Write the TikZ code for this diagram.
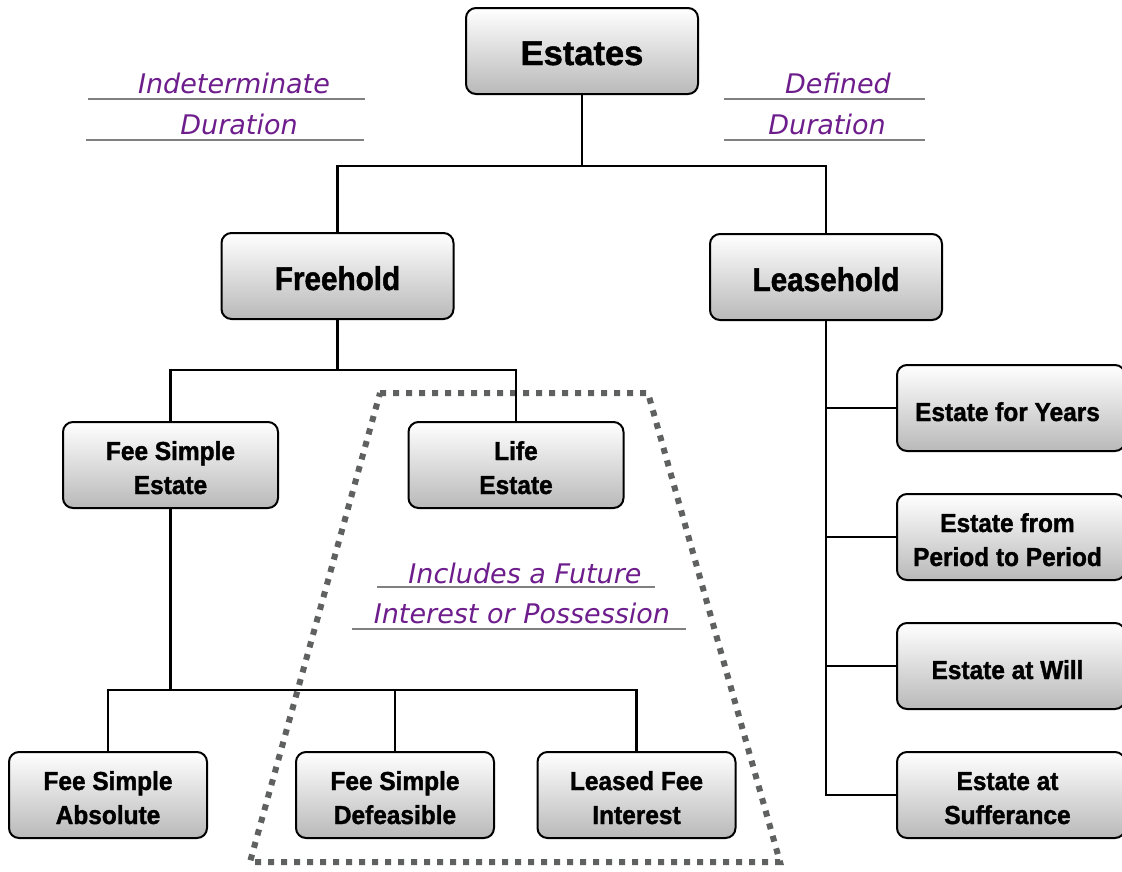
\documentclass[tikz,border=0pt]{standalone}
\usepackage{fontspec}
\setmainfont{Liberation Sans}
\newfontfamily\handfont{DejaVu Sans}
\newfontfamily\heavyfont[FakeBold=1.4,FakeStretch=0.94]{Liberation Sans Bold}
\newfontfamily\heavynarrow[FakeBold=1.4,FakeStretch=0.9]{Liberation Sans Bold}
\newfontfamily\heavywide[FakeBold=1.4]{Liberation Sans Bold}
\definecolor{notepurple}{RGB}{110,30,140}
\definecolor{rulegray}{RGB}{128,128,128}
\definecolor{dashgray}{RGB}{95,96,96}
\begin{document}
\begin{tikzpicture}[x=1pt,y=-1pt,
  box/.style={draw=black, line width=2pt, rounded corners=10pt,
    top color=white, bottom color=gray!55, align=center, inner sep=0pt,
    minimum width=215pt, minimum height=86pt,
    text height=63pt, text depth=5pt,
    font=\heavyfont\fontsize{26}{34}\selectfont},
  oneline/.style={text height=31pt, text depth=5pt},
  bigbox/.style={box, minimum width=232pt, text height=33pt, text depth=5pt,
    font=\heavynarrow\fontsize{33}{36}\selectfont},
  lowbox/.style={box, minimum width=198pt},
  sidebox/.style={box, minimum width=228pt},
  conn/.style={line width=2.2pt, black},
  note/.style={font=\handfont\itshape\fontsize{27}{30}\selectfont, text=notepurple, inner sep=0pt},
  noterule/.style={line width=1.8pt, rulegray},
  bracket/.style={line width=6pt, dashgray, dash pattern=on 6pt off 7pt}]
\useasboundingbox (0,0) rectangle (1122,871);
\fill[white] (0,0) rectangle (1122,871);

% grouping of estates that include a future interest
\draw[bracket] (380,393) -- (648,393) -- (780,862) -- (250,862) -- cycle;

% boxes
\node[bigbox, font=\heavywide\fontsize{34.5}{40}\selectfont] (estates) at (582,51) {Estates};
\node[bigbox] (freehold) at (337.5,276) {Freehold};
\node[bigbox] (leasehold) at (826,277) {Leasehold};
\node[box] (feesimple) at (170.5,465) {Fee Simple\\Estate};
\node[box] (life) at (516,465) {Life\\Estate};
\node[lowbox] (absolute) at (108,795) {Fee Simple\\Absolute};
\node[lowbox] (defeasible) at (395,795) {Fee Simple\\Defeasible};
\node[lowbox] (leasedfee) at (636.5,795) {Leased Fee\\Interest};
\node[sidebox, oneline] (years) at (1011,408) {\hspace*{-7pt}Estate for Years};
\node[sidebox] (period) at (1011,537) {\hspace*{-7pt}Estate from\\\hspace*{-7pt}Period to Period};
\node[sidebox, oneline] (will) at (1011,666) {\hspace*{-7pt}Estate at Will};
\node[sidebox] (sufferance) at (1011,795) {\hspace*{-7pt}Estate at\\\hspace*{-7pt}Sufferance};

% junctions
\coordinate (jtop) at (582,166);
\coordinate (jfree) at (337.5,370);
\coordinate (jfee) at (170.5,690);

% connectors
\draw[conn] (estates.south) -- (jtop);
\draw[conn] (jtop) -| (freehold.north);
\draw[conn] (jtop) -| (leasehold.north);
\draw[conn] (freehold.south) -- (jfree);
\draw[conn] (jfree) -| (feesimple.north);
\draw[conn] (jfree) -| (life.north);
\draw[conn] (feesimple.south) -- (jfee);
\draw[conn] (jfee) -| (absolute.north);
\draw[conn] (jfee) -| (defeasible.north);
\draw[conn] (jfee) -| (leasedfee.north);
\draw[conn] (leasehold.south) |- (sufferance.west);
\draw[conn] (leasehold.south |- years.west) -- (years.west);
\draw[conn] (leasehold.south |- period.west) -- (period.west);
\draw[conn] (leasehold.south |- will.west) -- (will.west);

% annotations
\node[note] (indet) at (234,83) {Indeterminate};
\node[note] (indur) at (239,124) {Duration};
\draw[noterule] (88,99) -- (365,99);
\draw[noterule] (86,140) -- (364,140);
\node[note] (defined) at (838,83) {Defined};
\node[note] (defdur) at (827,124) {Duration};
\draw[noterule] (724,99) -- (925,99);
\draw[noterule] (724,140) -- (925,140);
\node[note] (future) at (525,573) {Includes a Future};
\node[note] (interest) at (522,613) {Interest or Possession};
\draw[noterule] (377,587) -- (655,587);
\draw[noterule] (352,629) -- (686,629);
\end{tikzpicture}
\end{document}
